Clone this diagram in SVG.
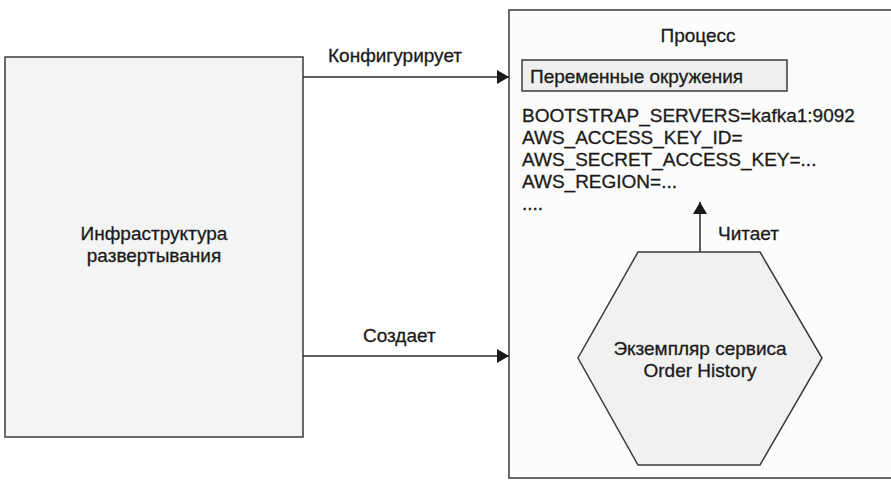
<svg xmlns="http://www.w3.org/2000/svg" width="891" height="480" viewBox="0 0 891 480">
<defs>
<marker id="arr" viewBox="0 0 12 14" refX="12" refY="7" markerWidth="12" markerHeight="14" markerUnits="userSpaceOnUse" orient="auto">
<path d="M0,0 L12,7 L0,14 Z" fill="#1a1a1a"/>
</marker>
<style>
text{font-family:"Liberation Sans",Arial,sans-serif;font-size:19px;fill:#1a1a1a;stroke:#1a1a1a;stroke-width:0.3}
.c{text-anchor:middle}
.box{stroke:#3a3a3a;stroke-width:1.5}
.edge{stroke:#2a2a2a;stroke-width:1.5;fill:none}
</style>
</defs>
<rect width="891" height="480" fill="#ffffff"/>
<g id="infra">
<rect class="box" x="5" y="57" width="298" height="380" fill="#f4f4f4"/>
<text class="c" x="154" y="240">Инфраструктура</text>
<text class="c" x="154" y="262">развертывания</text>
</g>
<g id="process">
<rect class="box" x="509" y="10" width="390" height="468" fill="#fcfcfc"/>
<text class="c" x="698" y="42">Процесс</text>
</g>
<g id="envvars">
<rect class="box" x="522" y="60" width="265" height="31" fill="#efefef"/>
<text x="530" y="83">Переменные окружения</text>
<text x="522" y="122">BOOTSTRAP_SERVERS=kafka1:9092</text>
<text x="522" y="144">AWS_ACCESS_KEY_ID=</text>
<text x="522" y="166">AWS_SECRET_ACCESS_KEY=...</text>
<text x="522" y="188">AWS_REGION=...</text>
<text x="522" y="210">....</text>
</g>
<g id="service">
<polygon class="box" points="638,252 760,252 822,358 760,465 638,465 578,358" fill="#f1f1f1"/>
<text class="c" x="700" y="355">Экземпляр сервиса</text>
<text class="c" x="700" y="377">Order History</text>
</g>
<g id="connectors">
<line class="edge" x1="303" y1="77" x2="509" y2="77" marker-end="url(#arr)"/>
<text x="328" y="62">Конфигурирует</text>
<line class="edge" x1="303" y1="356" x2="509" y2="356" marker-end="url(#arr)"/>
<text x="363" y="342">Создает</text>
<line class="edge" x1="700" y1="252" x2="700" y2="202" marker-end="url(#arr)"/>
<text x="718" y="240">Читает</text>
</g>
</svg>
